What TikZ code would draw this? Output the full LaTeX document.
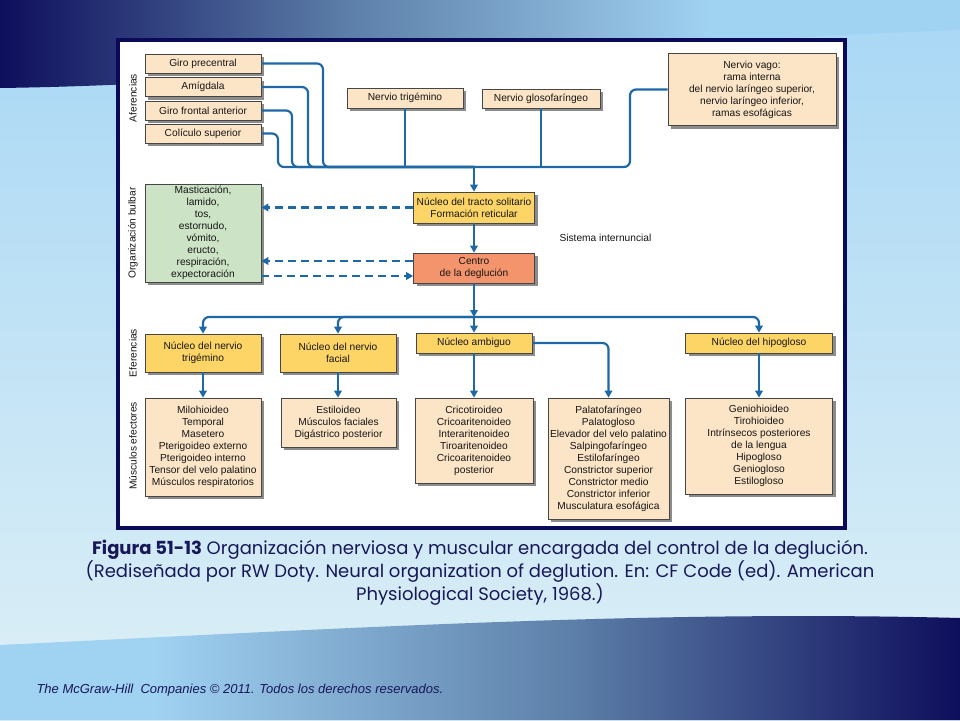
\documentclass[tikz,border=0pt]{standalone}
\usepackage{fontspec}
\setmainfont{Liberation Sans}
\newfontfamily\capfont{Poppins}
\usetikzlibrary{arrows.meta, shadows, positioning, calc}
\definecolor{slideNavy}{RGB}{14, 14, 92}
\definecolor{midBlue}{RGB}{92, 126, 168}
\definecolor{skyBlue}{RGB}{160, 210, 242}
\definecolor{bgTop}{RGB}{168, 215, 245}
\definecolor{bgBot}{RGB}{222, 240, 246}
\definecolor{frameNavy}{RGB}{10, 10, 88}
\definecolor{capInk}{RGB}{24, 24, 88}
\definecolor{linkBlue}{RGB}{30, 104, 166}
\definecolor{boxEdge}{RGB}{70, 70, 70}
\definecolor{inkGray}{RGB}{22, 22, 22}
\definecolor{peachFill}{RGB}{252, 228, 198}
\definecolor{bulbGreen}{RGB}{205, 227, 197}
\definecolor{nucYellow}{RGB}{253, 212, 102}
\definecolor{centroSalmon}{RGB}{244, 148, 108}
% shadings: the path covers 25bp..75bp
\pgfdeclarehorizontalshading{topband}{100bp}{color(0bp)=(slideNavy); color(25bp)=(slideNavy); color(43bp)=(midBlue); color(62bp)=(skyBlue); color(100bp)=(skyBlue)}
\pgfdeclarehorizontalshading{botband}{100bp}{color(0bp)=(skyBlue); color(33bp)=(skyBlue); color(55bp)=(midBlue); color(75bp)=(slideNavy); color(100bp)=(slideNavy)}
\tikzset{
    % Base Box Style
    chart/.style={
        rectangle,
        draw=boxEdge,
        line width=0.7pt,
        align=center,
        inner sep=2pt,
        text=inkGray,
        font=\fontsize{10.2}{12}\selectfont,
        drop shadow={shadow xshift=3pt, shadow yshift=-3pt, fill=black!50, opacity=0.9}
    },
    % Specific Role Styles
    boxAff/.style={chart, fill=peachFill},
    boxBulb/.style={chart, fill=bulbGreen},
    boxNuc/.style={chart, fill=nucYellow},
    boxCentro/.style={chart, fill=centroSalmon},
    boxMusc/.style={chart, fill=peachFill},
    % Connector & Label Styles
    link/.style={draw=linkBlue, line width=2.2pt, rounded corners=6pt},
    arrow/.style={link, -{Triangle[width=7.5pt, length=7pt]}},
    dashArrow/.style={draw=linkBlue, line width=2.4pt, dash pattern=on 8pt off 5pt, -{Triangle[width=7.5pt, length=7pt]}},
    rowLabel/.style={rotate=90, text=inkGray, font=\fontsize{10.2}{12}\selectfont}
}
\begin{document}
\begin{tikzpicture}[x=1pt, y=-1pt]

    % --- SLIDE BACKGROUND ---
    \useasboundingbox (0,0) rectangle (960,720);
    \fill[top color=bgTop, bottom color=bgBot] (0,0) rectangle (960,720);
    \shade[shading=topband] (0,0) -- (960,0) -- (960,30)
        .. controls (600,42) and (300,84) .. (0,88) -- cycle;
    \shade[shading=botband] (0,645) .. controls (350,628) and (650,610) .. (960,618)
        -- (960,720) -- (0,720) -- cycle;

    % --- FIGURE FRAME ---
    \draw[frameNavy, line width=4pt, fill=white] (118,40) rectangle (845,528);

    % --- ROW LABELS ---
    \node (labAff) [rowLabel] at (133,98) {Aferencias};
    \node (labBulb) [rowLabel] at (133,233) {Organización bulbar};
    \node (labEf) [rowLabel] at (133,353) {Eferencias};
    \node (labMusc) [rowLabel] at (133,446) {Músculos efectores};

    % --- AFERENCIAS ---
    \node (gp) [boxAff, minimum width=116pt, minimum height=19pt] at (203,63.5) {Giro precentral};
    \node (amig) [boxAff, minimum width=116pt, minimum height=19pt] at (203,87) {Amígdala};
    \node (gfa) [boxAff, minimum width=116pt, minimum height=19pt] at (203,110.5) {Giro frontal anterior};
    \node (cs) [boxAff, minimum width=116pt, minimum height=19pt] at (203,133.5) {Colículo superior};

    \node (trig) [boxAff, minimum width=116pt, minimum height=20pt] at (405,98) {Nervio trigémino};
    \node (glos) [boxAff, minimum width=118pt, minimum height=19pt] at (541,98.5) {Nervio glosofaríngeo};
    \node (vago) [boxAff, minimum width=168pt, minimum height=72pt] at (752,89.5) {
        Nervio vago:\\
        rama interna\\
        del nervio laríngeo superior,\\
        nervio laríngeo inferior,\\
        ramas esofágicas
    };

    % --- ORGANIZACION BULBAR ---
    \node (nts) [boxNuc, minimum width=121pt, minimum height=31pt] at (474,207.5) {
        Núcleo del tracto solitario\\
        Formación reticular
    };
    \node (centro) [boxCentro, minimum width=121pt, minimum height=30pt] at (474,268) {
        Centro\\
        de la deglución
    };
    \node (bulb) [boxBulb, minimum width=116pt, minimum height=98pt] at (203,233) {
        Masticación,\\ lamido,\\ tos,\\ estornudo,\\ vómito,\\ eructo,\\ respiración,\\ expectoración
    };
    \node (interLab) [anchor=west, text=inkGray, font=\fontsize{10.2}{12}\selectfont] at (556,238) {Sistema internuncial};

    % --- EFERENCIAS ---
    \node (enTrig) [boxNuc, minimum width=116pt, minimum height=38pt] at (203,353) {
        Núcleo del nervio\\ trigémino
    };
    \node (enFac) [boxNuc, minimum width=116pt, minimum height=38pt] at (338,353) {
        Núcleo del nervio\\ facial
    };
    \node (enAmb) [boxNuc, minimum width=116pt, minimum height=20pt] at (474,343) {Núcleo ambiguo};
    \node (enHip) [boxNuc, minimum width=147pt, minimum height=20pt] at (759,343) {Núcleo del hipogloso};

    % --- MUSCULOS EFECTORES ---
    \node (mTrig) [boxMusc, minimum width=116pt, minimum height=98pt] at (203,447) {
        Milohioideo\\ Temporal\\ Masetero\\ Pterigoideo externo\\ Pterigoideo interno\\
        Tensor del velo palatino\\ Músculos respiratorios
    };
    \node (mFac) [boxMusc, minimum width=115pt, minimum height=49pt] at (338.5,422.5) {
        Estiloideo\\ Músculos faciales\\ Digástrico posterior
    };
    \node (mAmb) [boxMusc, minimum width=118pt, minimum height=85pt] at (474,440.5) {
        Cricotiroideo\\ Cricoaritenoideo\\ Interaritenoideo\\ Tiroaritenoideo\\
        Cricoaritenoideo\\ posterior
    };
    \node (mPal) [boxMusc, minimum width=121pt, minimum height=121pt] at (608.5,458.5) {
        Palatofaríngeo\\ Palatogloso\\ Elevador del velo palatino\\ Salpingofaríngeo\\
        Estilofaríngeo\\ Constrictor superior\\ Constrictor medio\\ Constrictor inferior\\
        Musculatura esofágica
    };
    \node (mHip) [boxMusc, minimum width=147pt, minimum height=96pt] at (759,446) {
        Geniohioideo\\ Tirohioideo\\ Intrínsecos posteriores\\ de la lengua\\
        Hipogloso\\ Geniogloso\\ Estilogloso
    };

    % --- Afferent Bus ---
    \coordinate (bus) at (474,167);
    \foreach \src/\xv in {gp/323, amig/308, gfa/292, cs/278}
        \draw [link] (\src.east) -| (\xv,167) -- (bus);
    \draw [link] (trig.south) -- (trig.south |- bus);
    \draw [link] (glos.south) -- (glos.south |- bus);
    \draw [link] (vago.west) -| (630,167) -- (bus);
    \draw [arrow] (bus) -- (nts.north);
    \draw [arrow] (nts.south) -- (centro.north);

    % --- Dashed Links to Bulbar Box ---
    \draw [dashArrow] (nts.west) -- (nts.west -| bulb.east);
    \draw [dashArrow] ([yshift=7pt]centro.west) -- ([yshift=7pt]centro.west -| bulb.east);
    \draw [dashArrow] ([yshift=-8pt]centro.west -| bulb.east) -- ([yshift=-8pt]centro.west);

    % --- Efferent Bus ---
    \coordinate (ebus) at (474,317);
    \draw [arrow] (centro.south) -- (ebus);
    \draw [arrow] (ebus) -| (enTrig.north);
    \draw [arrow] (ebus) -| (enFac.north);
    \draw [arrow] (ebus) -- (enAmb.north);
    \draw [arrow] (ebus) -| (enHip.north);

    % --- To Muscles ---
    \draw [arrow] (enTrig.south) -- (mTrig.north);
    \draw [arrow] (enFac.south) -- (enFac.south |- mFac.north);
    \draw [arrow] (enAmb.south) -- (mAmb.north);
    \draw [arrow] (enAmb.east) -| (mPal.north);
    \draw [arrow] (enHip.south) -- (mHip.north);

    % --- CAPTION ---
    \node (caption) [align=center, text=capInk, font=\capfont\fontsize{18}{23}\selectfont] at (480,573) {
        \textbf{Figura 51-13} Organización nerviosa y muscular encargada del control de la deglución.\\
        (Rediseñada por RW Doty. Neural organization of deglution. En: CF Code (ed). American\\
        Physiological Society, 1968.)
    };
    \node (footer) [anchor=west, text=capInk, font=\itshape\fontsize{13}{15}\selectfont] at (33,690) {The McGraw-Hill\ \ Companies © 2011. Todos los derechos reservados.};

\end{tikzpicture}
\end{document}
